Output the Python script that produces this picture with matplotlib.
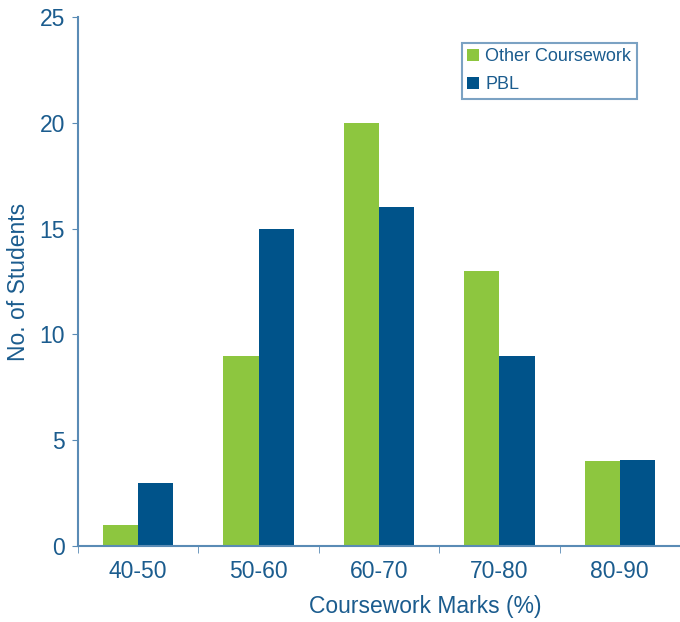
import matplotlib
matplotlib.use('Agg')
import matplotlib.pyplot as plt
import numpy as np

plt.rcParams['font.family'] = ['Liberation Sans', 'DejaVu Sans']

categories = ['40-50', '50-60', '60-70', '70-80', '80-90']
other_cw = [1, 9, 20, 13, 4]
pbl = [3, 15, 16, 9, 4.05]

green = '#8dc63f'
blue = '#00538a'
txt = '#1b5c8e'
spine = '#5a8bb5'

fig = plt.figure(figsize=(6.8, 6.22), dpi=100)
ax = fig.add_axes([78/680, 76/622, 1 - 78/680, 529/622])

x = np.arange(len(categories))
w = 0.293
ax.bar(x - w/2, other_cw, w, color=green, label='Other Coursework')
ax.bar(x + w/2, pbl, w, color=blue, label='PBL')

ax.set_xlim(-0.5, -0.5 + (680 - 78) / 121.3)
ax.set_ylim(0, 25)
ax.set_yticks([0, 5, 10, 15, 20, 25])
ax.set_xticks(x)
ax.set_xticklabels(categories)
ax.set_xticks(np.arange(len(categories) + 1) - 0.5, minor=True)
ax.tick_params(axis='x', which='major', length=0, pad=10, labelsize=16.5, labelcolor=txt)
ax.tick_params(axis='x', which='minor', length=5, direction='out', color=spine)
ax.tick_params(axis='y', length=4, direction='out', color=spine, labelsize=16.5, labelcolor=txt, pad=5.5)

for s in ['top', 'right']:
    ax.spines[s].set_visible(False)
for s in ['left', 'bottom']:
    ax.spines[s].set_color(spine)
    ax.spines[s].set_linewidth(1.5)

ax.set_xlabel('Coursework Marks (%)', fontsize=16.5, color=txt, labelpad=8)
ax.xaxis.set_label_coords((425 - 78) / 602, -(607 - 546) / 529)
ax.xaxis.label.set_va('center')
ax.set_ylabel('No. of Students', fontsize=16.5, color=txt)
ax.yaxis.set_label_coords(-(78 - 19) / 602, 0.5)
ax.yaxis.label.set_va('center')

leg = ax.legend(loc='upper left', bbox_to_anchor=((462 - 78) / 602, (546 - 43) / 529),
                frameon=True, fancybox=False, fontsize=13, handlelength=0.65, handleheight=0.7,
                handletextpad=0.35, borderpad=0.3, labelspacing=0.6, borderaxespad=0)
leg.get_frame().set_edgecolor(spine)
leg.get_frame().set_linewidth(1.5)
for t in leg.get_texts():
    t.set_color(txt)

fig.savefig('out.png', dpi=100)
